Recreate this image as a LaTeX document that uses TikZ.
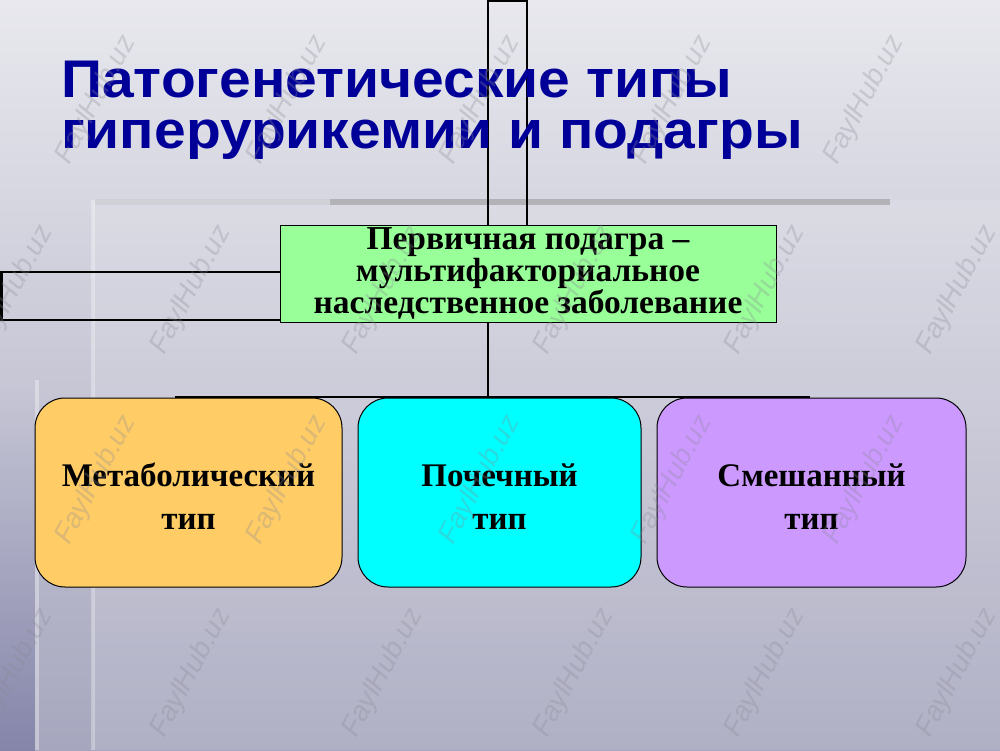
\documentclass[tikz,border=0pt]{standalone}
\usepackage{fontspec}
\setmainfont{Liberation Serif}
\newfontfamily\titlefont{Liberation Sans}
\usetikzlibrary{shadings}
\definecolor{titleblue}{HTML}{000099}
\definecolor{bgtop}{HTML}{E8E8EE}
\definecolor{bgmid}{HTML}{C7C7D6}
\definecolor{bgbot}{HTML}{A6A6BE}
\definecolor{stripbot}{HTML}{8585AA}
\definecolor{greenbox}{HTML}{99FF99}
\definecolor{orangebox}{HTML}{FFCC66}
\definecolor{cyanbox}{HTML}{00FFFF}
\definecolor{violetbox}{HTML}{CC99FF}
\definecolor{wmgray}{HTML}{8A8A96}
\newcommand{\widetitle}[1]{\scalebox{1.075}[1]{#1}}
\tikzset{
  titletext/.style={font=\titlefont\bfseries\fontsize{53}{60}\selectfont, text=titleblue, anchor=base west, inner sep=0pt},
  topbox/.style={draw=black, line width=1pt, fill=greenbox, minimum width=496pt, minimum height=97pt, inner sep=0pt,
    font=\bfseries\fontsize{33.5}{27.5}\selectfont, align=center},
  typebox/.style={draw=black, line width=1pt, rounded corners=30pt, minimum height=189pt, inner sep=0pt},
  typelabel/.style={inner sep=0pt, font=\bfseries\fontsize{33}{43}\selectfont, align=center},
  conn/.style={draw=black, line width=2pt},
  frame/.style={draw=black, line width=2.5pt},
  wm/.style={font=\titlefont\itshape\fontsize{28}{28}\selectfont, text=wmgray, opacity=0.3, rotate=62, inner sep=0pt}
}
\begin{document}
\begin{tikzpicture}[x=1pt,y=-1pt]
\useasboundingbox (0,0) rectangle (1000,750);
% background
\shade[top color=bgtop, bottom color=bgbot] (0,0) rectangle (1000,750);
% lighter panel and decoration
\fill[white, opacity=0.12] (93,200) rectangle (1000,750);
\fill[gray!80, opacity=0.6] (330,199) rectangle (890,205);
\fill[gray!50, opacity=0.3] (95,199) rectangle (330,205);
\shade[top color=bgmid, bottom color=stripbot] (0,380) rectangle (35,750);
\fill[white, opacity=0.35] (35,380) rectangle (39,750);
\fill[white, opacity=0.3] (91,200) rectangle (95,750);
% stray frames
\node[coordinate] (vtl) at (488,1) {};
\node[coordinate] (vbr) at (527,226) {};
\draw[frame, line width=2pt] (vtl) rectangle (vbr);
\node[coordinate] (htl) at (1.5,272) {};
\node[coordinate] (hbr) at (282,320) {};
\draw[frame] (htl) rectangle (hbr);
% title
\node[titletext] (t1) at (61,97) {\widetitle{Патогенетические типы}};
\node[titletext] (t2) at (61,148) {\widetitle{гиперурикемии и подагры}};
% main box
\node[topbox] (top) at (528,273.5) {Первичная подагра –\\мультифакториальное\\наследственное заболевание};
% bus
\node[coordinate] (busL) at (175,397) {};
\node[coordinate] (busR) at (810,397) {};
\node[coordinate] (busM) at (488,397) {};
\draw[conn] (top.south -| busM) -- (busM);
\draw[conn] (busL) -- (busR);
% type boxes
\node[typebox, fill=orangebox, minimum width=307pt] (b1) at (188.5,492.5) {};
\node[typebox, fill=cyanbox, minimum width=283pt] (b2) at (499.5,492.5) {};
\node[typebox, fill=violetbox, minimum width=309pt] (b3) at (811.5,492.5) {};
\node[typelabel] (l1) at ([yshift=-4pt]b1.center) {Метаболический\\тип};
\node[typelabel] (l2) at ([yshift=-4pt]b2.center) {Почечный\\тип};
\node[typelabel] (l3) at ([yshift=-4pt]b3.center) {Смешанный\\тип};
% watermarks
\foreach \x in {96,287,480,672,864}{
  \foreach \y in {100,480}{ \node[wm] at (\x,\y) {FaylHub.uz}; }
}
\foreach \x in {13,191,383,574,765,957}{
  \foreach \y in {290,673}{ \node[wm] at (\x,\y) {FaylHub.uz}; }
}
\end{tikzpicture}
\end{document}
